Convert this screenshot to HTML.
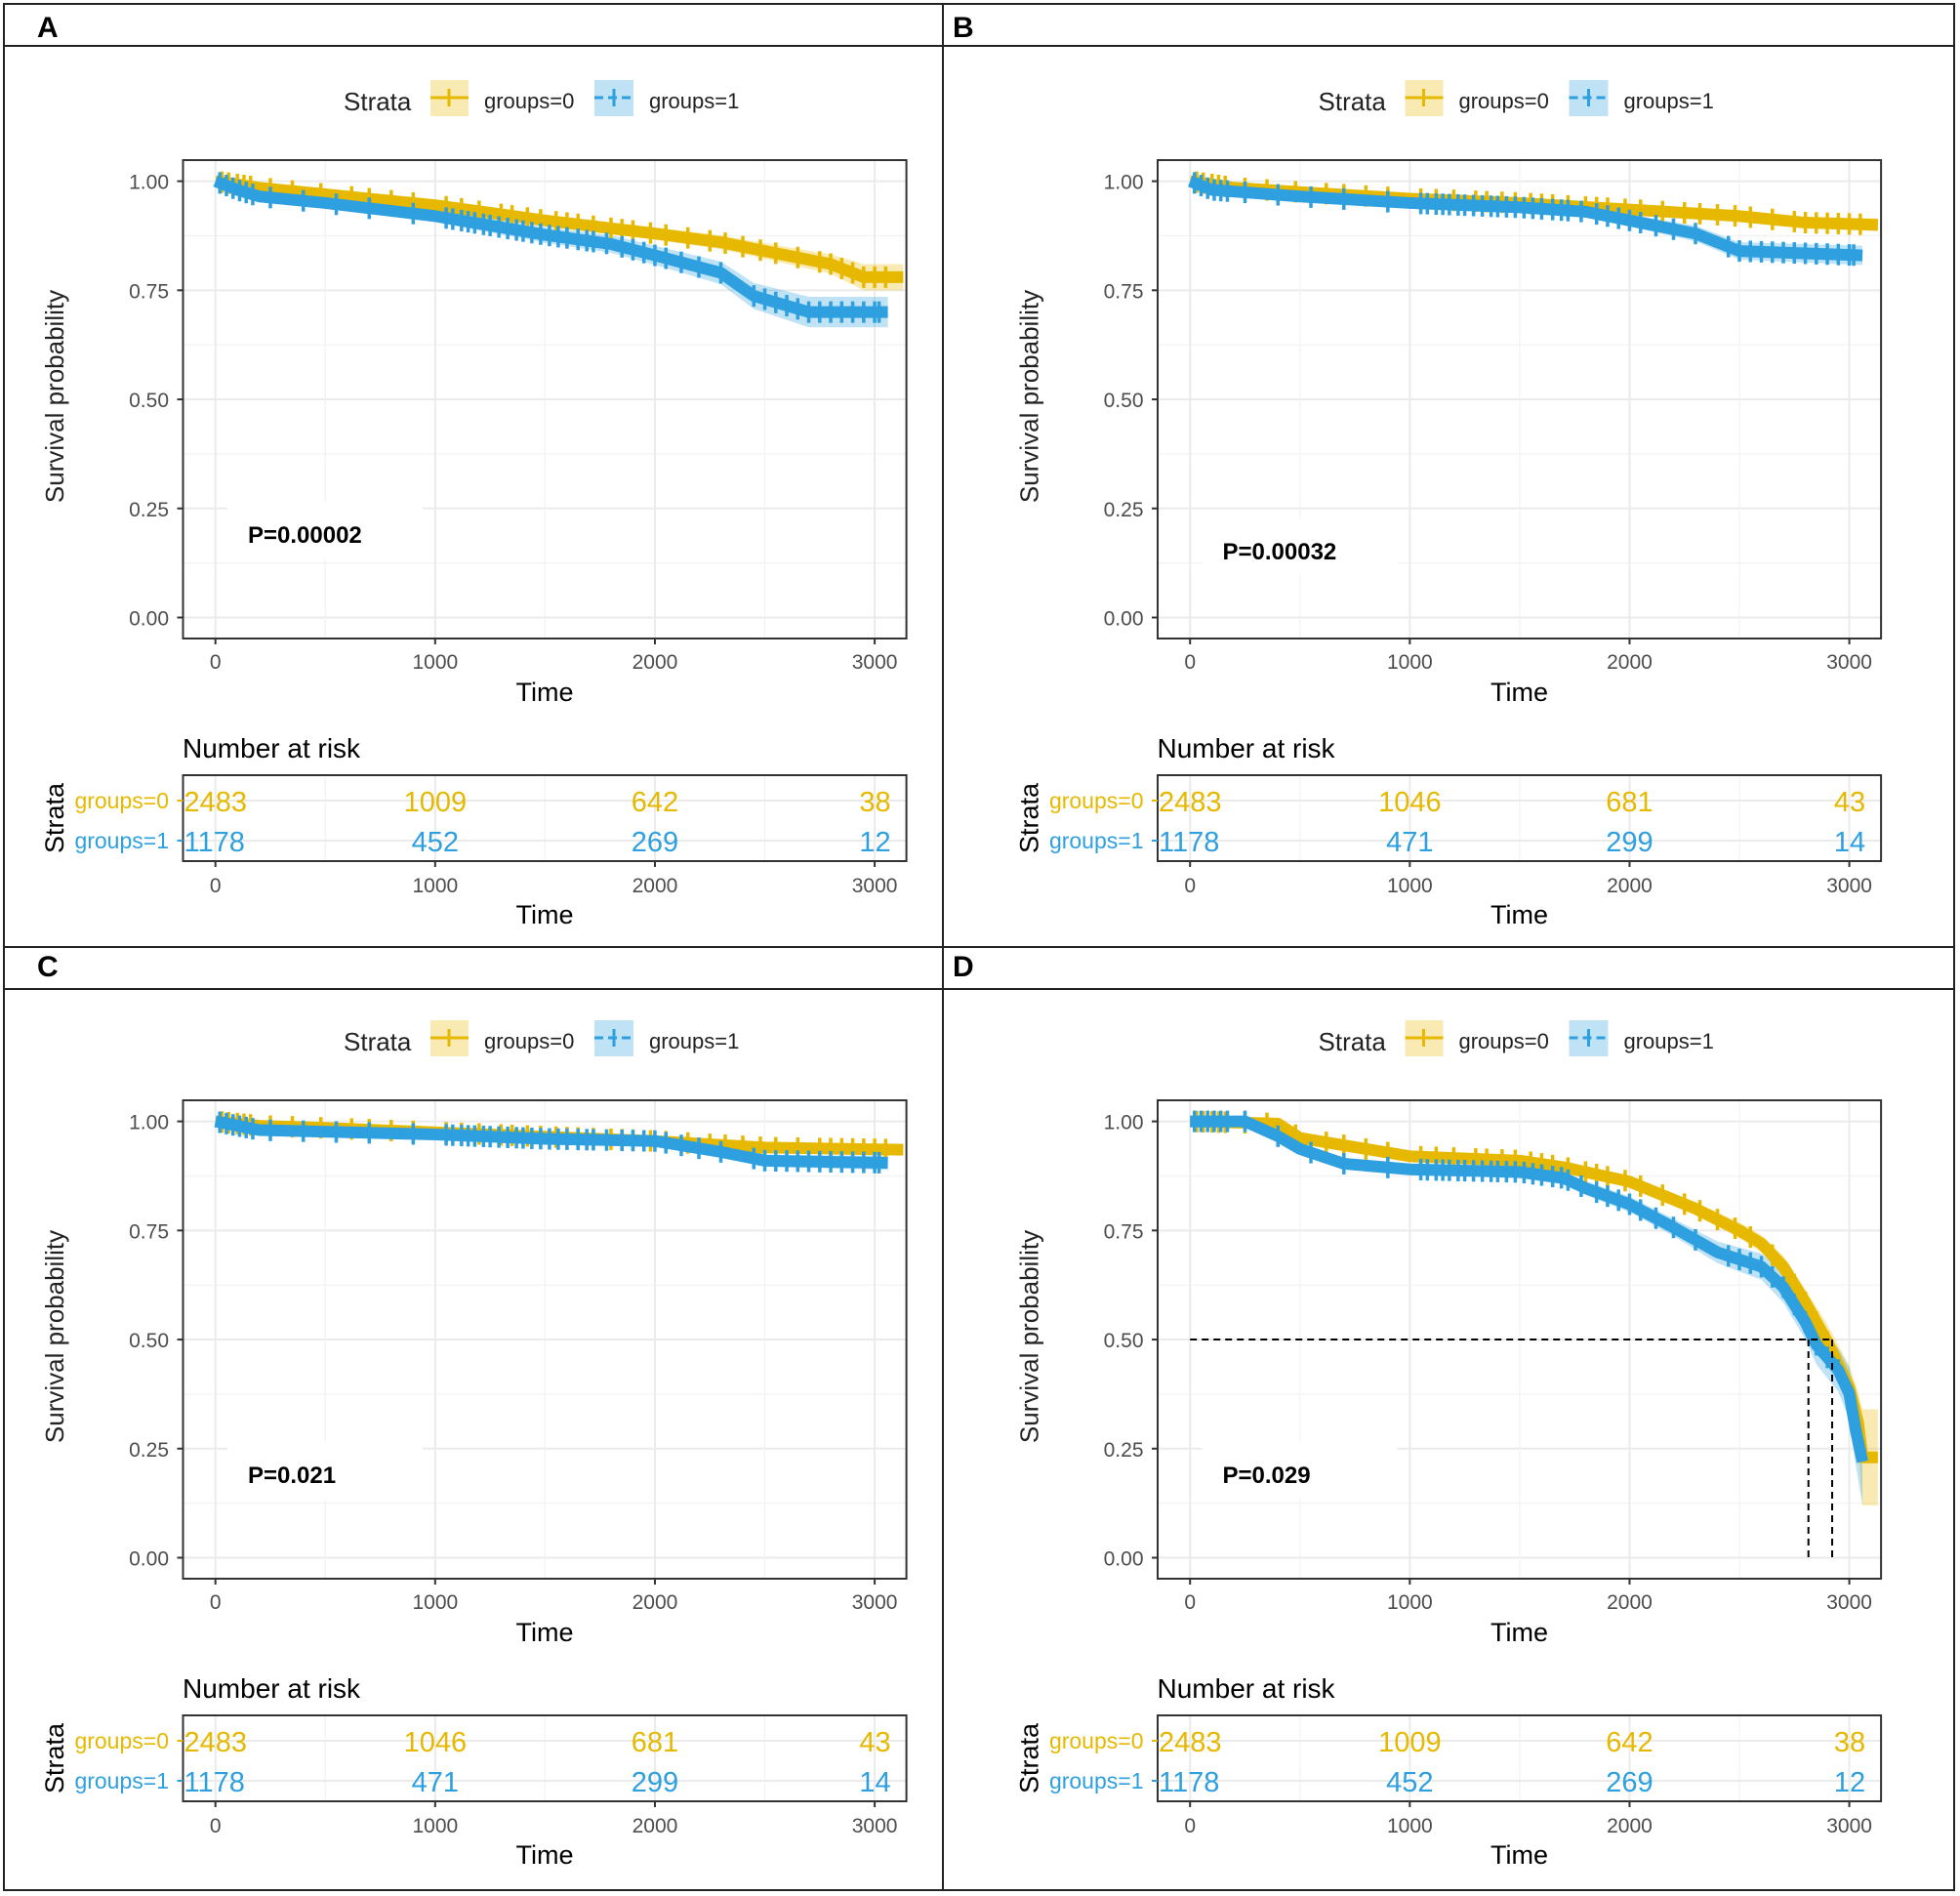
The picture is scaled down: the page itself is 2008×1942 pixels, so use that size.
<!DOCTYPE html>
<html><head><meta charset="utf-8"><style>
html,body{margin:0;padding:0;background:#fff}
svg{display:block}
text{font-family:"Liberation Sans",Arial,sans-serif}
</style></head><body>
<svg id="fig" width="2008" height="1942" viewBox="0 0 2008 1942" xmlns="http://www.w3.org/2000/svg">
<rect x="0" y="0" width="2008" height="1942" fill="#fff"/>
<g id="frame" stroke="#222" stroke-width="2" fill="none">
<rect x="4" y="4" width="1998" height="1932"/>
<line x1="966" y1="4" x2="966" y2="1936"/>
<line x1="4" y1="47" x2="2002" y2="47"/>
<line x1="4" y1="970" x2="2002" y2="970"/>
<line x1="4" y1="1013" x2="2002" y2="1013"/>
</g>
<text x="38" y="38" font-size="30" font-weight="bold">A</text>
<text x="976" y="38" font-size="30" font-weight="bold">B</text>
<text x="38" y="1000" font-size="30" font-weight="bold">C</text>
<text x="976" y="1000" font-size="30" font-weight="bold">D</text>
</svg>
<script>
// ---- data ----
const xTicks = [0, 1000, 2000, 3000];
const yTicks = [0, 0.25, 0.5, 0.75, 1.0];
const yTickLabels = ["0.00", "0.25", "0.50", "0.75", "1.00"];
const riskTimes = [0, 1000, 2000, 3000];
const groupNames = ["groups=0", "groups=1"];

const aTime0 = [0, 200, 500, 1000, 1500, 2000, 2300, 2500, 2800, 2950, 3130];
const aSurv0 = [1.0, 0.985, 0.97, 0.945, 0.91, 0.88, 0.86, 0.84, 0.81, 0.78, 0.78];
const aTime1 = [0, 100, 200, 500, 1000, 1500, 1800, 2000, 2300, 2450, 2700, 3060];
const aSurv1 = [1.0, 0.98, 0.965, 0.95, 0.92, 0.877, 0.856, 0.83, 0.79, 0.737, 0.70, 0.70];
const aCI0 = [0, 0.005, 0.008, 0.01, 0.012, 0.014, 0.016, 0.018, 0.022, 0.03, 0.03];
const aCI1 = [0, 0.008, 0.01, 0.012, 0.014, 0.018, 0.02, 0.022, 0.026, 0.03, 0.035, 0.035];
const aRisk0 = [2483, 1009, 642, 38];
const aRisk1 = [1178, 452, 269, 12];
const aPval = "P=0.00002";

const bTime0 = [0, 200, 500, 1000, 1500, 2000, 2500, 2800, 3130];
const bSurv0 = [1.0, 0.985, 0.975, 0.96, 0.95, 0.935, 0.92, 0.905, 0.90];
const bTime1 = [0, 100, 500, 1000, 1500, 1800, 2000, 2300, 2500, 3060];
const bSurv1 = [1.0, 0.98, 0.965, 0.95, 0.94, 0.93, 0.91, 0.88, 0.84, 0.83];
const bCI0 = [0, 0.004, 0.005, 0.006, 0.007, 0.008, 0.01, 0.012, 0.015];
const bCI1 = [0, 0.006, 0.008, 0.01, 0.011, 0.012, 0.014, 0.018, 0.02, 0.022];
const bRisk0 = [2483, 1046, 681, 43];
const bRisk1 = [1178, 471, 299, 14];
const bPval = "P=0.00032";

const cTime0 = [0, 200, 500, 1000, 1500, 2000, 2500, 3130];
const cSurv0 = [1.0, 0.99, 0.985, 0.975, 0.965, 0.955, 0.94, 0.935];
const cTime1 = [0, 200, 1000, 1500, 2000, 2300, 2500, 3060];
const cSurv1 = [1.0, 0.98, 0.97, 0.96, 0.955, 0.93, 0.91, 0.905];
const cCI0 = [0, 0.003, 0.004, 0.005, 0.006, 0.007, 0.009, 0.012];
const cCI1 = [0, 0.005, 0.007, 0.008, 0.009, 0.012, 0.014, 0.016];
const cRisk0 = [2483, 1046, 681, 43];
const cRisk1 = [1178, 471, 299, 14];
const cPval = "P=0.021";

const dTime0 = [0, 400, 500, 1000, 1500, 1700, 2000, 2300, 2500, 2600, 2700, 2800, 2900, 3000, 3040, 3060, 3130];
const dSurv0 = [1.0, 0.995, 0.962, 0.92, 0.91, 0.895, 0.862, 0.80, 0.75, 0.72, 0.667, 0.585, 0.495, 0.39, 0.31, 0.23, 0.23];
const dTime1 = [0, 250, 400, 500, 700, 1000, 1500, 1700, 1800, 2000, 2200, 2400, 2600, 2700, 2800, 2850, 2950, 3000, 3030, 3060];
const dSurv1 = [1.0, 1.0, 0.966, 0.937, 0.903, 0.89, 0.884, 0.87, 0.847, 0.81, 0.757, 0.70, 0.667, 0.62, 0.54, 0.488, 0.43, 0.376, 0.29, 0.22];
const dCI0 = [0, 0.003, 0.006, 0.008, 0.009, 0.01, 0.012, 0.015, 0.018, 0.02, 0.025, 0.03, 0.04, 0.05, 0.07, 0.11, 0.11];
const dCI1 = [0, 0, 0.008, 0.01, 0.012, 0.013, 0.014, 0.015, 0.016, 0.018, 0.02, 0.025, 0.03, 0.035, 0.04, 0.045, 0.05, 0.06, 0.08, 0.1];
const dRisk0 = [2483, 1009, 642, 38];
const dRisk1 = [1178, 452, 269, 12];
const dPval = "P=0.029";
const dMedians = [2814, 2922];
const dMedianLevel = 0.5;

const censorTimes0 = [30, 60, 100, 130, 160, 250, 350, 480, 620, 700, 800, 900, 1050, 1120, 1200, 1300, 1350, 1420, 1480, 1550, 1600, 1650, 1720, 1800, 1850, 1900, 1980, 2050, 2150, 2250, 2320, 2400, 2480, 2550, 2650, 2750, 2800, 2850, 2900, 2950, 3000, 3050];
const censorTimes1 = [20, 50, 80, 110, 140, 170, 250, 400, 550, 700, 900, 1050, 1080, 1120, 1150, 1180, 1220, 1250, 1290, 1330, 1370, 1400, 1440, 1480, 1520, 1560, 1600, 1650, 1690, 1720, 1780, 1850, 1900, 1950, 2000, 2050, 2120, 2200, 2300, 2450, 2500, 2550, 2600, 2650, 2700, 2750, 2800, 2850, 2900, 2950, 3000, 3020];

// ---- drawing ----
const NS = "http://www.w3.org/2000/svg";
const svg = document.getElementById("fig");
const C0 = "#E7B800", C1 = "#2E9FDF";
function mk(tag, attrs, parent) {
  const e = document.createElementNS(NS, tag);
  for (const k in attrs) e.setAttribute(k, attrs[k]);
  parent.appendChild(e);
  return e;
}
function tx(parent, x, y, str, attrs) {
  const e = mk("text", Object.assign({x: x, y: y}, attrs || {}), parent);
  e.textContent = str;
  return e;
}
function interp(ts, ss, t) {
  if (t <= ts[0]) return ss[0];
  for (let i = 1; i < ts.length; i++) {
    if (t <= ts[i]) { const f = (t - ts[i-1]) / (ts[i] - ts[i-1]); return ss[i-1] + f * (ss[i] - ss[i-1]); }
  }
  return null;
}

function drawPanel(key, dx, dy, t0, s0, ci0, t1, s1, ci1, r0, r1, pval, pdy, medians) {
  const g = mk("g", {transform: "translate(" + dx + "," + dy + ")"}, svg);
  
  
  const L = 187.5, R = 928.6, T = 164, B = 654;
  const X = t => 220.7 + t * 0.22513;
  const Y = s => 632.5 - s * 446.9;

  // legend
  const lg = mk("g", {}, g);
  
  
  tx(lg, 352, 113, "Strata", {"font-size": 26, fill: "#222"});
  const k0 = mk("g", {}, lg);
  
  
  mk("rect", {x: 441, y: 82, width: 39, height: 37, fill: C0, "fill-opacity": 0.3}, k0);
  mk("line", {x1: 441, y1: 100, x2: 480, y2: 100, stroke: C0, "stroke-width": 3}, k0);
  mk("line", {x1: 460, y1: 91, x2: 460, y2: 109, stroke: C0, "stroke-width": 3}, k0);
  tx(k0, 496, 111, "groups=0", {"font-size": 22, fill: "#222"});
  const k1 = mk("g", {}, lg);
  
  
  mk("rect", {x: 609, y: 82, width: 40, height: 37, fill: C1, "fill-opacity": 0.3}, k1);
  mk("line", {x1: 609, y1: 100, x2: 649, y2: 100, stroke: C1, "stroke-width": 3, "stroke-dasharray": "9,5"}, k1);
  mk("line", {x1: 629, y1: 91, x2: 629, y2: 109, stroke: C1, "stroke-width": 3}, k1);
  tx(k1, 665, 111, "groups=1", {"font-size": 22, fill: "#222"});

  // grid
  const gr = mk("g", {}, g);
  
  
  for (let i = 0; i < yTicks.length; i++) {
    mk("line", {x1: L, x2: R, y1: Y(yTicks[i]), y2: Y(yTicks[i]), stroke: "#EBEBEB", "stroke-width": 2}, gr);
    if (i < yTicks.length - 1) { const m = (yTicks[i] + yTicks[i+1]) / 2; mk("line", {x1: L, x2: R, y1: Y(m), y2: Y(m), stroke: "#F2F2F2", "stroke-width": 1.2}, gr); }
  }
  for (let i = 0; i < xTicks.length; i++) {
    mk("line", {x1: X(xTicks[i]), x2: X(xTicks[i]), y1: T, y2: B, stroke: "#EBEBEB", "stroke-width": 2}, gr);
    const m = xTicks[i] + 500;
    if (X(m) < R) mk("line", {x1: X(m), x2: X(m), y1: T, y2: B, stroke: "#F2F2F2", "stroke-width": 1.2}, gr);
  }

  // p-value box
  const pg = mk("g", {}, g);
  
  
  mk("rect", {x: 233, y: 514 + pdy, width: 200, height: 58, fill: "#fff"}, pg);
  tx(pg, 254, 556 + pdy, pval, {"font-size": 24, "font-weight": "bold", fill: "#000"});

  // series
  const series = [[t0, s0, ci0, C0, censorTimes0, "group-0"], [t1, s1, ci1, C1, censorTimes1, "group-1"]];
  series.forEach(sr => {
    const [ts, ss, ci, col, cens, nm] = sr;
    const up = ts.map((t, i) => X(t) + "," + Y(Math.min(1, ss[i] + ci[i]))).join(" ");
    const lo = ts.map((t, i) => X(t) + "," + Y(ss[i] - ci[i])).reverse().join(" ");
    const rb = mk("polygon", {points: up + " " + lo, fill: col, "fill-opacity": 0.3}, g);
    
    
  });
  series.forEach(sr => {
    const [ts, ss, ci, col, cens, nm] = sr;
    const ln = mk("polyline", {points: ts.map((t, i) => X(t) + "," + Y(ss[i])).join(" "), fill: "none", stroke: col, "stroke-width": 12, "stroke-linejoin": "round"}, g);
    
    
    const cg = mk("g", {stroke: col, "stroke-width": 3.5}, g);
    
    
    cens.forEach(t => {
      const s = interp(ts, ss, t);
      if (s === null) return;
      mk("line", {x1: X(t), x2: X(t), y1: Y(s) - 11, y2: Y(s) + 11}, cg);
    });
  });

  if (medians) {
    const mg = mk("g", {stroke: "#000", "stroke-width": 2, "stroke-dasharray": "7,5", fill: "none"}, g);
    
    
    mk("line", {x1: X(0), x2: X(Math.max.apply(null, medians)), y1: Y(dMedianLevel), y2: Y(dMedianLevel)}, mg);
    medians.forEach(m => mk("line", {x1: X(m), x2: X(m), y1: Y(dMedianLevel), y2: Y(0)}, mg));
  }

  // border + axes
  const bd = mk("rect", {x: L, y: T, width: R - L, height: B - T, fill: "none", stroke: "#333", "stroke-width": 2}, g);
  
  
  const ya = mk("g", {}, g);
  
  
  yTicks.forEach((v, i) => {
    mk("line", {x1: L - 6, x2: L, y1: Y(v), y2: Y(v), stroke: "#333", "stroke-width": 2}, ya);
    tx(ya, 173, Y(v) + 8, yTickLabels[i], {"font-size": 21, fill: "#4D4D4D", "text-anchor": "end"});
  });
  const yt = tx(ya, 0, 0, "Survival probability", {"font-size": 26, fill: "#222", "text-anchor": "middle", transform: "translate(65,406) rotate(-90)"});
  
  
  const xa = mk("g", {}, g);
  
  
  xTicks.forEach(v => {
    mk("line", {x1: X(v), x2: X(v), y1: B, y2: B + 6, stroke: "#333", "stroke-width": 2}, xa);
    tx(xa, X(v), 685, String(v), {"font-size": 21, fill: "#4D4D4D", "text-anchor": "middle"});
  });
  const xt = tx(xa, (L + R) / 2, 718, "Time", {"font-size": 27, fill: "#000", "text-anchor": "middle"});
  
  

  // risk table
  const rt = mk("g", {}, g);
  
  
  const RT = 794, RB = 882, row0 = 820, row1 = 861;
  tx(rt, 187, 776, "Number at risk", {"font-size": 28, fill: "#000"});
  xTicks.forEach(v => {
    mk("line", {x1: X(v), x2: X(v), y1: RT, y2: RB, stroke: "#EBEBEB", "stroke-width": 2}, rt);
    if (X(v + 500) < R) mk("line", {x1: X(v + 500), x2: X(v + 500), y1: RT, y2: RB, stroke: "#F2F2F2", "stroke-width": 1.2}, rt);
  });
  [row0, row1].forEach(y => mk("line", {x1: L, x2: R, y1: y, y2: y, stroke: "#EBEBEB", "stroke-width": 2}, rt));
  riskTimes.forEach((t, i) => {
    let anchor = "middle", x = X(t);
    if (i === 0) { anchor = "start"; x = L + 1; }
    if (i === riskTimes.length - 1) { anchor = "end"; x = R - 16; }
    tx(rt, x, row0 + 11, String(r0[i]), {"font-size": 29, fill: C0, "text-anchor": anchor});
    tx(rt, x, row1 + 11, String(r1[i]), {"font-size": 29, fill: C1, "text-anchor": anchor});
  });
  mk("rect", {x: L, y: RT, width: R - L, height: RB - RT, fill: "none", stroke: "#333", "stroke-width": 2}, rt);
  mk("line", {x1: L - 6, x2: L, y1: row0, y2: row0, stroke: C0, "stroke-width": 2}, rt);
  mk("line", {x1: L - 6, x2: L, y1: row1, y2: row1, stroke: C1, "stroke-width": 2}, rt);
  tx(rt, 173, row0 + 8, groupNames[0], {"font-size": 23, fill: C0, "text-anchor": "end"});
  tx(rt, 173, row1 + 8, groupNames[1], {"font-size": 23, fill: C1, "text-anchor": "end"});
  tx(rt, 0, 0, "Strata", {"font-size": 27, fill: "#000", "text-anchor": "middle", transform: "translate(65,838) rotate(-90)"});
  xTicks.forEach(v => {
    mk("line", {x1: X(v), x2: X(v), y1: RB, y2: RB + 6, stroke: "#333", "stroke-width": 2}, rt);
    tx(rt, X(v), 914, String(v), {"font-size": 21, fill: "#4D4D4D", "text-anchor": "middle"});
  });
  tx(rt, (L + R) / 2, 946, "Time", {"font-size": 27, fill: "#000", "text-anchor": "middle"});
}

drawPanel("a", 0, 0, aTime0, aSurv0, aCI0, aTime1, aSurv1, aCI1, aRisk0, aRisk1, aPval, 0, null);
drawPanel("b", 998.5, 0, bTime0, bSurv0, bCI0, bTime1, bSurv1, bCI1, bRisk0, bRisk1, bPval, 17, null);
drawPanel("c", 0, 963, cTime0, cSurv0, cCI0, cTime1, cSurv1, cCI1, cRisk0, cRisk1, cPval, 0, null);
drawPanel("d", 998.5, 963, dTime0, dSurv0, dCI0, dTime1, dSurv1, dCI1, dRisk0, dRisk1, dPval, 0, dMedians);
</script>
</body></html>
